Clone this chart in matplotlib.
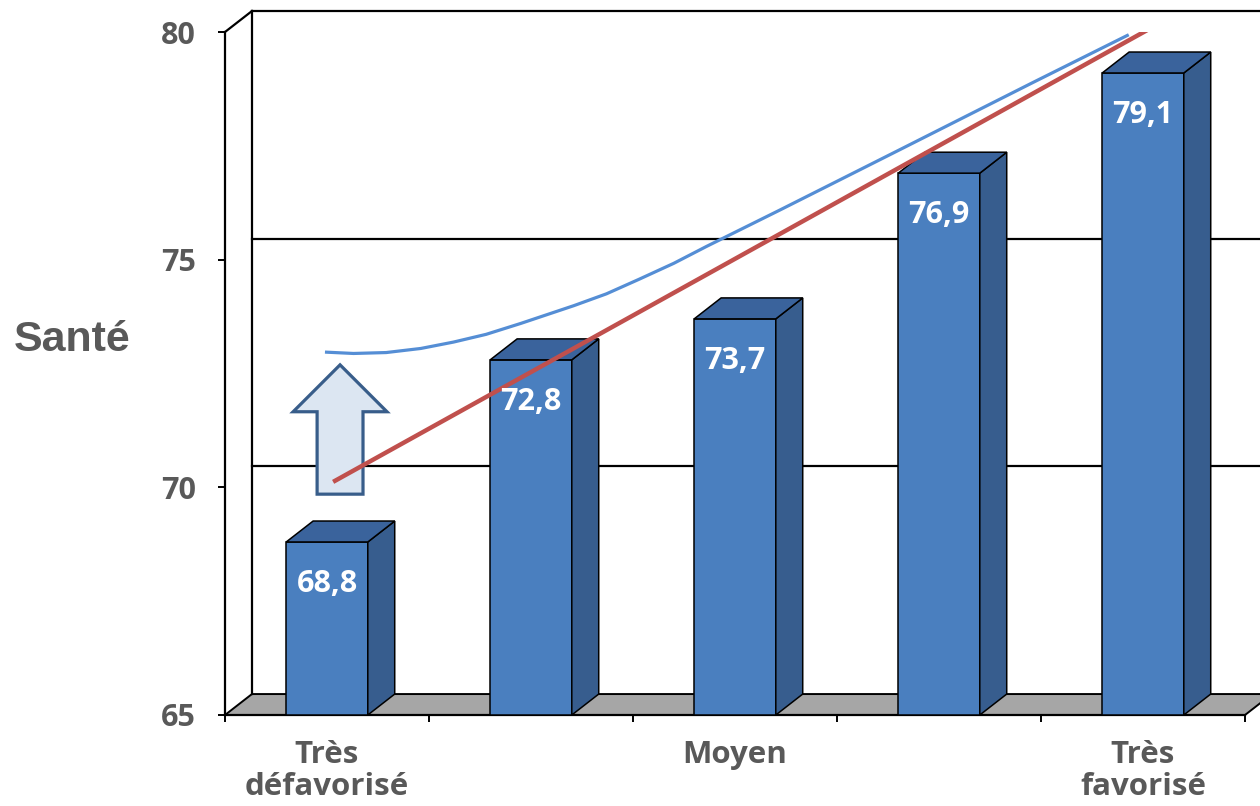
import numpy as np
import matplotlib
matplotlib.use("Agg")
import matplotlib.pyplot as plt
from matplotlib.patches import Polygon, FancyArrow

# data
categories = ["Très\ndéfavorisé", "", "Moyen", "", "Très\nfavorisé"]
values = [68.8, 72.8, 73.7, 76.9, 79.1]
value_labels = ["68,8", "72,8", "73,7", "76,9", "79,1"]
yticks = [65, 70, 75, 80]

# hand-drawn blue curve
curve_x = [-0.01, 0.13, 0.29, 0.46, 0.62, 0.78, 0.95, 1.21, 1.37, 1.53,
           1.70, 1.86, 2.22, 2.81, 3.46, 3.93]
curve_y = [72.97, 72.94, 72.96, 73.05, 73.19, 73.36, 73.60, 73.99, 74.25, 74.57,
           74.92, 75.29, 76.09, 77.42, 78.89, 79.94]
# red trend line end points
trend_x = [0.03, 4.02]
trend_y = [70.12, 80.04]

# 3d look
ddx = 0.132   # depth offset in category units
ddy = 0.46    # depth offset in value units
barw = 0.40

front_col = "#4a7fbf"
side_col = "#375d8e"
top_col = "#3a639c"
txt_col = "#595959"
tick_font = "Open Sans"

fig = plt.figure(figsize=(12.6, 8.06), dpi=100)
ax = fig.add_axes([225/1260, 91/806, 1020/1260, 683/806])
ax.set_xlim(-0.5, 4.5)
ax.set_ylim(65, 80)
ax.patch.set_visible(False)
for s in ["top", "right"]:
    ax.spines[s].set_visible(False)
ax.spines["left"].set_linewidth(1.6)
ax.spines["bottom"].set_linewidth(1.6)

x = np.arange(len(values))
x0, x1 = -0.5, len(values) - 0.5
ymin, ymax = yticks[0], yticks[-1]

# floor
ax.add_patch(Polygon([(x0, ymin), (x0 + ddx, ymin + ddy), (x1 + ddx, ymin + ddy), (x1, ymin)],
                     closed=True, fc="#a6a6a6", ec="black", lw=1.4, clip_on=False, zorder=1))
# back wall + gridlines
ax.plot([x0 + ddx, x0 + ddx], [ymin + ddy, ymax + ddy], color="black", lw=1.6, clip_on=False, zorder=1)
ax.plot([x0, x0 + ddx], [ymax, ymax + ddy], color="black", lw=1.6, clip_on=False, zorder=1)
for yv in yticks[1:]:
    ax.plot([x0 + ddx, x1 + ddx + 0.2], [yv + ddy, yv + ddy], color="black", lw=1.6,
            clip_on=False, zorder=1)

# bars
ax.bar(x, np.array(values) - ymin, bottom=ymin, width=barw, color=front_col,
       edgecolor="black", linewidth=1.1, zorder=3)
for xi, v in zip(x, values):
    l, r = xi - barw / 2, xi + barw / 2
    side = [(r, ymin), (r + ddx, ymin + ddy), (r + ddx, v + ddy), (r, v)]
    top = [(l, v), (l + ddx, v + ddy), (r + ddx, v + ddy), (r, v)]
    ax.add_patch(Polygon(side, closed=True, fc=side_col, ec="black", lw=1.1, zorder=3))
    ax.add_patch(Polygon(top, closed=True, fc=top_col, ec="black", lw=1.1, zorder=3))

for xi, v, lab in zip(x, values, value_labels):
    ax.text(xi, v - 0.92, lab, ha="center", va="center", color="white",
            fontsize=22, fontweight="bold", family=tick_font, zorder=6)

# lines and arrow
ax.plot(curve_x, curve_y, color="#558ed5", lw=2.3, zorder=5, solid_capstyle="butt",
        solid_joinstyle="round")
ax.plot(trend_x, trend_y, color="#c0504d", lw=3.2, zorder=5, solid_capstyle="butt")
ax.add_patch(FancyArrow(0.064, 69.85, 0, 2.84, width=0.225, head_width=0.46, head_length=1.03,
                        length_includes_head=True, fc="#dce6f2", ec="#385d8a", lw=2.3,
                        joinstyle="miter", zorder=4))

# axes ticks
ax.set_yticks(yticks)
ax.set_yticklabels([str(t) for t in yticks])
ax.tick_params(axis="y", length=5, width=1.4, pad=16, labelsize=22, labelcolor=txt_col)
ax.set_xticks(np.arange(x0, x1 + 0.01, 1.0), minor=True)
ax.set_xticks([0, 2, 4])
ax.set_xticklabels([categories[0], categories[2], categories[4]], linespacing=1.1)
ax.tick_params(axis="x", which="major", length=0, pad=18, labelsize=22.5, labelcolor=txt_col)
ax.tick_params(axis="x", which="minor", length=5, width=1.4)
for lab in ax.get_xticklabels() + ax.get_yticklabels():
    lab.set_fontweight("bold")
    lab.set_family(tick_font)

fig.text(72/1260, 1 - 340/806, "Santé", ha="center", va="center", fontsize=31,
         fontweight="bold", color=txt_col, family="Liberation Sans")

fig.savefig("out.png", dpi=100)
